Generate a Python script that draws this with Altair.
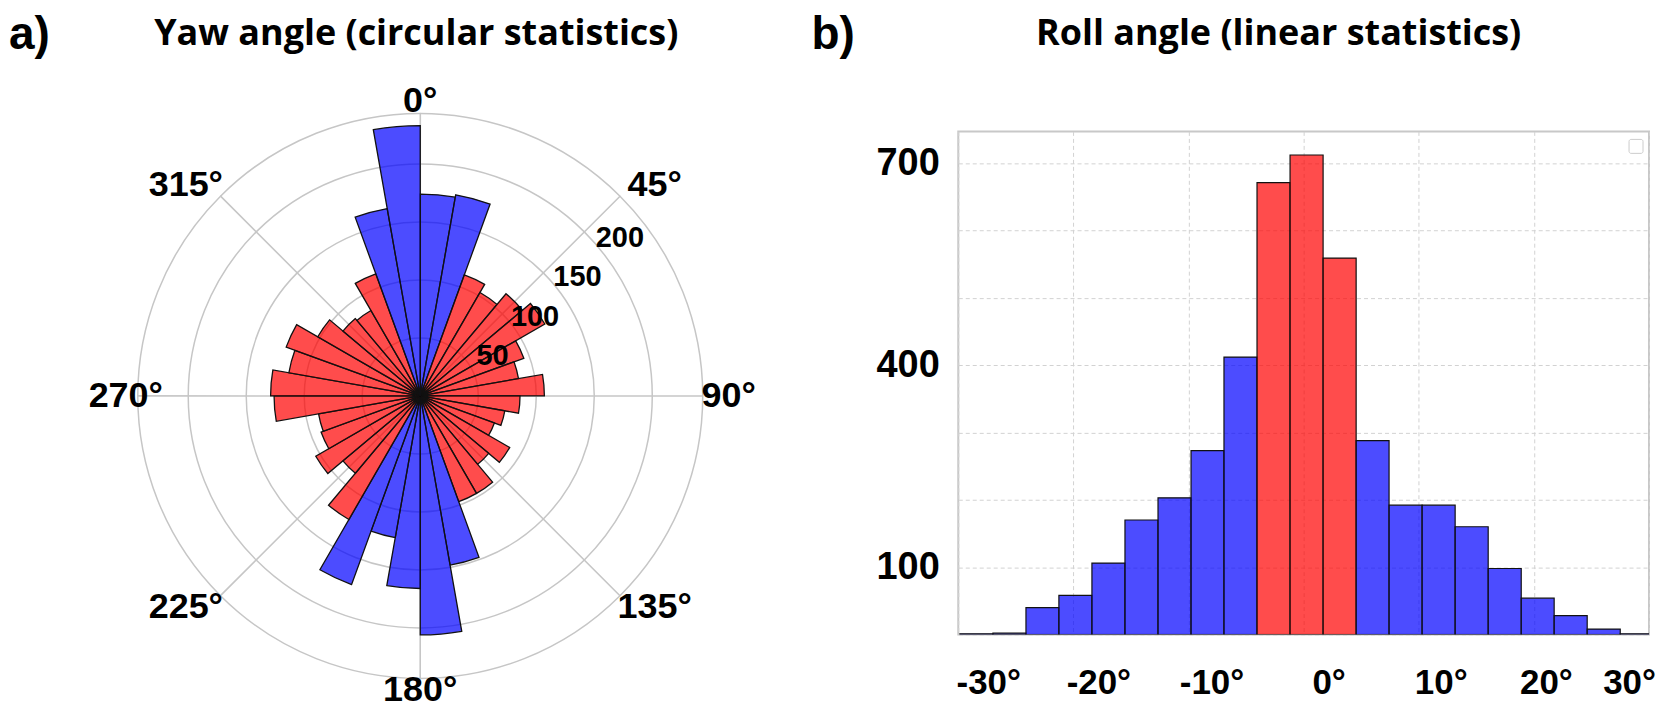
import altair as alt
import pandas as pd

# ---------------- Panel a) : yaw angle rose (10 degree sectors) ----------------
yaw_bin_start = [0, 10, 20, 30, 40, 50, 60, 70, 80, 90, 100, 110,
                 120, 130, 140, 150, 160, 170, 180, 190, 200, 210, 220, 230,
                 240, 250, 260, 270, 280, 290, 300, 310, 320, 330, 340, 350]
yaw_counts = [174, 176, 111, 103, 115, 124, 95, 86, 107, 86, 74, 68,
              89, 77, 97, 97, 148, 206, 166, 124, 173, 123, 87, 104,
              91, 89, 126, 129, 115, 123, 102, 87, 85, 112, 164, 233]
yaw_group = ['B', 'B', 'R', 'R', 'R', 'R', 'R', 'R', 'R', 'R', 'R', 'R',
             'R', 'R', 'R', 'R', 'B', 'B', 'B', 'B', 'B', 'R', 'R', 'R',
             'R', 'R', 'R', 'R', 'R', 'R', 'R', 'R', 'R', 'R', 'B', 'B']
ring_values = [50, 100, 150, 200]
yaw_rmax = 243.5
angle_ticks = [0, 45, 90, 135, 180, 225, 270, 315]
angle_labels = ['0°', '45°', '90°', '135°', '180°', '225°', '270°', '315°']

# ---------------- Panel b) : roll angle histogram ----------------
roll_bin_lo = [-29.86, -26.99, -24.12, -21.26, -18.39, -15.52, -12.65, -9.78,
               -6.92, -4.05, -1.18, 1.69, 4.56, 7.42, 10.29, 13.16, 16.03,
               18.90, 21.76, 24.63, 27.50]
roll_bin_hi = [-26.99, -24.12, -21.26, -18.39, -15.52, -12.65, -9.78, -6.92,
               -4.05, -1.18, 1.69, 4.56, 7.42, 10.29, 13.16, 16.03, 18.90,
               21.76, 24.63, 27.50, 30.37]
roll_counts = [1, 2, 40, 58, 106, 170, 203, 273, 412, 671, 712, 559, 288,
               192, 192, 160, 98, 54, 28, 8, 1]
roll_group = ['B', 'B', 'B', 'B', 'B', 'B', 'B', 'B', 'B', 'R', 'R', 'R', 'B',
              'B', 'B', 'B', 'B', 'B', 'B', 'B', 'B']
roll_x_ticks = [-30, -20, -10, 0, 10, 20, 30]
roll_y_ticks = [0, 100, 200, 300, 400, 500, 600, 700]
roll_ymax = 747

panel_letters = ['a)', 'b)']
panel_titles = ['Yaw angle (circular statistics)', 'Roll angle (linear statistics)']

LABEL_FONT = 'Liberation Sans'
TITLE_FONT = 'Open Sans'
GRID = '#c6c6c6'
color_scale = alt.Scale(domain=['B', 'R'], range=['#0000ff', '#ff0000'])

# ---------------- polar chart ----------------
CX, CY, R_PX = 412, 387, 283
theta_scale = alt.Scale(domain=[0, 360], range=[0, 6.283185307179586])
radius_scale = alt.Scale(type='linear', domain=[0, yaw_rmax], range=[0, R_PX],
                         zero=True, nice=False)

yaw_df = pd.DataFrame({'start': yaw_bin_start, 'count': yaw_counts, 'grp': yaw_group})
rings_df = pd.DataFrame({'r': ring_values + [yaw_rmax]})
spokes_df = pd.DataFrame({'a': angle_ticks, 'lab': angle_labels})
rlab_df = pd.DataFrame({'r': ring_values})

center = dict(x=alt.value(CX), y=alt.value(CY))

rings = alt.Chart(rings_df).mark_arc(
    fillOpacity=0, stroke=GRID, strokeWidth=1.5
).encode(
    theta=alt.value(0), theta2=alt.value(6.2831853),
    radius=alt.Radius('r:Q', scale=radius_scale), radius2=alt.Radius2('r:Q'),
    **center)

spokes = alt.Chart(spokes_df).transform_calculate(
    a2='datum.a + 0.02'
).mark_arc(fillOpacity=0, stroke=GRID, strokeWidth=1.5, strokeJoin='bevel').encode(
    theta=alt.Theta('a:Q', scale=theta_scale, stack=None),
    theta2=alt.Theta2('a2:Q'),
    radius=alt.RadiusDatum(yaw_rmax, scale=radius_scale),
    **center)

rose = alt.Chart(yaw_df).transform_calculate(
    end='datum.start + 10'
).mark_arc(stroke='#111111', strokeWidth=1.3, fillOpacity=0.7).encode(
    theta=alt.Theta('start:Q', scale=theta_scale, stack=None),
    theta2=alt.Theta2('end:Q'),
    radius=alt.Radius('count:Q', scale=radius_scale),
    color=alt.Color('grp:N', scale=color_scale, legend=None),
    **center)

# label placement: a little further out (and nearer the horizontal) on the diagonals,
# and the east label sits a little further out than the others
angle_text = alt.Chart(spokes_df).transform_calculate(
    rr=('295 + 21 * abs(sin(2 * datum.a * PI / 180))'
        ' + 14 * max(0, -cos(2 * datum.a * PI / 180)) * max(0, sin(datum.a * PI / 180))'),
    ta='datum.a + 3 * sin(2 * datum.a * PI / 180)'
).mark_text(
    font=LABEL_FONT, fontSize=36, fontWeight='bold', color='black',
    align='center', baseline='middle'
).encode(
    theta=alt.Theta('ta:Q', scale=theta_scale, stack=None),
    radius=alt.Radius('rr:Q', scale=None), text='lab:N', **center)

rad_text = alt.Chart(rlab_df).mark_text(
    font=LABEL_FONT, fontSize=29, fontWeight='bold', color='black',
    align='center', baseline='middle', dx=30, dy=0
).encode(
    theta=alt.value(0.82),
    radius=alt.Radius('r:Q', scale=radius_scale), text='r:Q', **center)

title_a = alt.Chart(pd.DataFrame({'t': [panel_titles[0]]})).mark_text(
    font=TITLE_FONT, fontSize=36, fontWeight='bold', color='black',
    align='center', baseline='alphabetic'
).encode(x=alt.value(408), y=alt.value(35), text='t:N')

letter_a = alt.Chart(pd.DataFrame({'t': [panel_letters[0]]})).mark_text(
    font=LABEL_FONT, fontSize=46, fontWeight='bold', color='black',
    align='left', baseline='alphabetic'
).encode(x=alt.value(0), y=alt.value(39), text='t:N')

left = alt.layer(rings, spokes, rose, angle_text, rad_text, title_a, letter_a).properties(
    width=800, height=694)

# ---------------- histogram ----------------
roll_df = pd.DataFrame({'lo': roll_bin_lo, 'hi': roll_bin_hi,
                        'count': roll_counts, 'grp': roll_group})

x_axis = alt.Axis(
    values=roll_x_ticks, labelExpr="datum.value + '°'", title=None,
    grid=True, gridDash=[4, 3], gridColor='#d2d2d2', gridWidth=1,
    ticks=False, tickSize=0, domain=False,
    labelFont=LABEL_FONT, labelFontSize=35, labelFontWeight='bold',
    labelColor='black', labelPadding=31, labelOverlap=False, labelFlush=False,
    labelOffset={"condition": [{"test": "datum.value == 30", "value": -20},
                               {"test": "datum.value == 20", "value": 12},
                               {"test": "datum.value == -30", "value": 30},
                               {"test": "datum.value == 10", "value": 22},
                               {"test": "datum.value == -10", "value": 23}],
                 "value": 25})
y_axis = alt.Axis(
    values=roll_y_ticks,
    labelExpr="(datum.value == 100 || datum.value == 400 || datum.value == 700) ? datum.label : ''",
    title=None, grid=True, gridDash=[4, 3], gridColor='#d2d2d2', gridWidth=1,
    ticks=False, tickSize=0, domain=False,
    labelFont=LABEL_FONT, labelFontSize=38, labelFontWeight='bold',
    labelColor='black', labelPadding=19, labelOverlap=False)

hist_bars = alt.Chart(roll_df).mark_bar(
    stroke='#111111', strokeWidth=1.2, fillOpacity=0.7, clip=True
).encode(
    x=alt.X('lo:Q', scale=alt.Scale(domain=[-30, 30], nice=False, zero=False), axis=x_axis),
    x2='hi:Q',
    y=alt.Y('count:Q', scale=alt.Scale(domain=[0, roll_ymax], nice=False), axis=y_axis),
    y2=alt.Y2Datum(0),
    color=alt.Color('grp:N', scale=color_scale, legend=None))

legend_box = alt.Chart(pd.DataFrame({'k': [0]})).mark_rect(
    fill='white', stroke='#cccccc', strokeWidth=1, cornerRadius=2
).encode(x=alt.value(672), x2=alt.value(686), y=alt.value(8), y2=alt.value(22))

hist = alt.layer(hist_bars, legend_box).properties(
    width=692, height=504,
    view=alt.ViewBackground(stroke='#c8c8c8', strokeWidth=2))

title_b = alt.Chart(pd.DataFrame({'t': [panel_titles[1]]})).mark_text(
    font=TITLE_FONT, fontSize=36, fontWeight='bold', color='black',
    align='center', baseline='alphabetic'
).encode(x=alt.value(321), y=alt.value(35), text='t:N')

letter_b = alt.Chart(pd.DataFrame({'t': [panel_letters[1]]})).mark_text(
    font=LABEL_FONT, fontSize=46, fontWeight='bold', color='black',
    align='left', baseline='alphabetic'
).encode(x=alt.value(-147), y=alt.value(39), text='t:N')

head_b = alt.layer(title_b, letter_b).properties(width=692, height=122)

right = alt.vconcat(head_b, hist, spacing=0, bounds='flush')

chart = alt.hconcat(left, right, spacing=151, bounds='flush').properties(
    padding=0
).configure_view(stroke='transparent')

chart.save("out.html", embed_options={"renderer": "svg", "actions": False})
